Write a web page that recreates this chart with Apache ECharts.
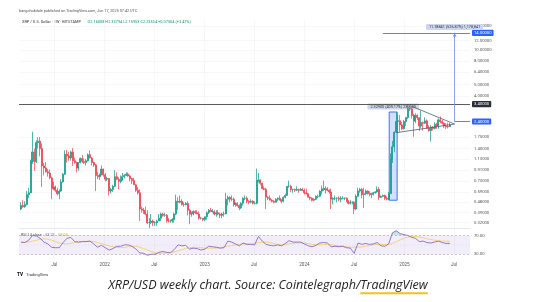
<!DOCTYPE html>
<html><head><meta charset="utf-8">
<script src="https://cdn.jsdelivr.net/npm/echarts@6/dist/echarts.min.js"></script>
<style>html,body{margin:0;padding:0;background:#fff}#c{width:543px;height:302px}</style>
</head><body><div id="c"></div>
<script>
// ---------- DATA ----------
const firstWeek = '2021-03-01'; // Monday of first weekly candle
// rows: [open, high, low, close]
const ohlc2021 = [
[0.42,0.48,0.41,0.45],[0.45,0.50,0.43,0.44],[0.44,0.49,0.43,0.46],[0.46,0.60,0.45,0.56],[0.56,0.64,0.52,0.58],
[0.58,1.12,0.58,1.07],[1.07,1.96,1.03,1.31],[1.31,1.40,0.90,1.08],[1.08,1.65,1.05,1.58],
[1.58,1.75,1.40,1.62],[1.62,1.76,1.20,1.40],[1.40,1.55,0.65,0.99],[0.99,1.05,0.82,0.95],[0.95,1.07,0.87,0.88],
[0.88,0.93,0.80,0.86],[0.86,0.92,0.76,0.78],[0.78,0.80,0.51,0.63],[0.63,0.72,0.61,0.65],
[0.65,0.67,0.59,0.61],[0.61,0.64,0.55,0.57],[0.57,0.62,0.51,0.60],[0.60,0.76,0.59,0.72],
[0.72,0.86,0.71,0.84],[0.84,1.35,0.83,1.25],[1.25,1.36,1.06,1.21],[1.21,1.31,1.10,1.16],[1.16,1.34,1.10,1.31],
[1.31,1.41,0.99,1.10],[1.10,1.17,1.03,1.06],[1.06,1.08,0.87,0.95],[0.95,1.06,0.90,1.06],
[1.06,1.17,1.04,1.15],[1.15,1.23,1.05,1.08],[1.08,1.15,1.03,1.06],[1.06,1.14,1.00,1.10],
[1.10,1.27,1.08,1.24],[1.24,1.35,1.15,1.16],[1.16,1.18,1.00,1.06],[1.06,1.08,0.97,1.01],[1.01,1.03,0.60,0.82],
[0.82,0.88,0.76,0.80],[0.80,0.85,0.75,0.83],[0.83,1.00,0.82,0.93],[0.93,0.94,0.80,0.83]
];
const ohlc2022 = [
[0.83,0.86,0.73,0.76],[0.76,0.80,0.73,0.77],[0.77,0.78,0.55,0.60],[0.60,0.64,0.57,0.62],[0.62,0.68,0.59,0.66],
[0.66,0.91,0.65,0.80],[0.80,0.87,0.75,0.76],[0.76,0.79,0.62,0.73],[0.73,0.82,0.70,0.75],
[0.75,0.86,0.74,0.80],[0.80,0.84,0.77,0.82],[0.82,0.87,0.81,0.84],[0.84,0.87,0.80,0.81],
[0.81,0.83,0.73,0.77],[0.77,0.78,0.69,0.74],[0.74,0.78,0.68,0.68],[0.68,0.69,0.59,0.61],
[0.61,0.65,0.56,0.58],[0.58,0.62,0.33,0.42],[0.42,0.44,0.39,0.41],[0.41,0.43,0.38,0.40],[0.40,0.44,0.37,0.38],
[0.38,0.41,0.31,0.32],[0.32,0.35,0.287,0.32],[0.32,0.38,0.31,0.33],[0.33,0.34,0.30,0.32],
[0.32,0.33,0.30,0.32],[0.32,0.34,0.30,0.33],[0.33,0.38,0.33,0.35],[0.35,0.39,0.33,0.38],
[0.38,0.39,0.36,0.37],[0.37,0.39,0.36,0.37],[0.37,0.38,0.32,0.34],[0.34,0.35,0.32,0.33],[0.33,0.34,0.32,0.33],
[0.33,0.35,0.32,0.34],[0.34,0.39,0.32,0.38],[0.38,0.56,0.37,0.49],[0.49,0.53,0.41,0.48],
[0.48,0.55,0.47,0.49],[0.49,0.51,0.45,0.46],[0.46,0.48,0.44,0.46],[0.46,0.48,0.45,0.47],[0.47,0.49,0.37,0.41],
[0.41,0.42,0.31,0.38],[0.38,0.40,0.36,0.38],[0.38,0.41,0.37,0.40],[0.40,0.41,0.38,0.39],
[0.39,0.41,0.38,0.38],[0.38,0.40,0.34,0.35],[0.35,0.36,0.34,0.35],[0.35,0.35,0.33,0.34]
];
const ohlc2023 = [
[0.34,0.36,0.33,0.36],[0.36,0.40,0.34,0.39],[0.39,0.42,0.38,0.41],[0.41,0.43,0.40,0.40],[0.40,0.42,0.39,0.40],
[0.40,0.41,0.37,0.38],[0.38,0.41,0.36,0.39],[0.39,0.41,0.37,0.38],[0.38,0.39,0.35,0.37],
[0.37,0.39,0.35,0.38],[0.38,0.40,0.36,0.38],[0.38,0.58,0.38,0.51],[0.51,0.55,0.45,0.53],
[0.53,0.54,0.48,0.51],[0.51,0.55,0.49,0.51],[0.51,0.53,0.44,0.46],[0.46,0.48,0.44,0.47],
[0.47,0.48,0.44,0.45],[0.45,0.46,0.41,0.43],[0.43,0.48,0.42,0.47],[0.47,0.53,0.45,0.52],[0.52,0.55,0.50,0.52],
[0.52,0.54,0.47,0.49],[0.49,0.50,0.46,0.48],[0.48,0.51,0.47,0.49],[0.49,0.50,0.46,0.47],
[0.47,0.49,0.46,0.47],[0.47,0.94,0.46,0.74],[0.74,0.86,0.71,0.75],[0.75,0.76,0.68,0.70],[0.70,0.71,0.62,0.63],
[0.63,0.66,0.61,0.62],[0.62,0.64,0.42,0.53],[0.53,0.54,0.50,0.52],[0.52,0.55,0.50,0.50],
[0.50,0.51,0.48,0.49],[0.49,0.50,0.47,0.48],[0.48,0.52,0.48,0.51],[0.51,0.53,0.49,0.52],
[0.52,0.55,0.50,0.50],[0.50,0.51,0.47,0.49],[0.49,0.54,0.48,0.53],[0.53,0.57,0.52,0.55],[0.55,0.66,0.55,0.66],
[0.66,0.74,0.64,0.66],[0.66,0.68,0.59,0.62],[0.62,0.63,0.58,0.62],[0.62,0.63,0.59,0.61],
[0.61,0.66,0.60,0.62],[0.62,0.63,0.58,0.61],[0.61,0.64,0.60,0.62],[0.62,0.64,0.60,0.61]
];
const ohlc2024 = [
[0.61,0.63,0.56,0.58],[0.58,0.63,0.56,0.57],[0.57,0.58,0.53,0.53],[0.53,0.54,0.50,0.52],[0.52,0.53,0.49,0.50],
[0.50,0.52,0.49,0.51],[0.51,0.55,0.50,0.54],[0.54,0.56,0.52,0.54],[0.54,0.61,0.53,0.60],
[0.60,0.67,0.56,0.63],[0.63,0.74,0.60,0.62],[0.62,0.66,0.57,0.63],[0.63,0.65,0.60,0.61],
[0.61,0.62,0.57,0.59],[0.59,0.63,0.42,0.51],[0.51,0.53,0.46,0.52],[0.52,0.55,0.50,0.52],[0.52,0.53,0.48,0.52],
[0.52,0.54,0.49,0.51],[0.51,0.54,0.48,0.52],[0.52,0.54,0.51,0.52],[0.52,0.53,0.50,0.52],
[0.52,0.53,0.48,0.49],[0.49,0.50,0.46,0.47],[0.47,0.50,0.46,0.48],[0.48,0.49,0.46,0.48],
[0.48,0.49,0.38,0.42],[0.42,0.56,0.41,0.54],[0.54,0.64,0.53,0.60],[0.60,0.64,0.58,0.62],[0.62,0.64,0.52,0.56],
[0.56,0.64,0.43,0.57],[0.57,0.62,0.55,0.60],[0.60,0.61,0.56,0.57],[0.57,0.60,0.54,0.57],
[0.57,0.58,0.52,0.56],[0.56,0.59,0.55,0.58],[0.58,0.60,0.57,0.59],[0.59,0.66,0.58,0.62],[0.62,0.65,0.50,0.53],
[0.53,0.55,0.52,0.54],[0.54,0.56,0.53,0.55],[0.55,0.56,0.50,0.52],[0.52,0.54,0.50,0.51],
[0.51,0.59,0.50,0.57],[0.57,1.27,0.57,1.13],[1.13,1.63,1.05,1.45],[1.45,1.97,1.30,1.94],
[1.94,2.90,1.92,2.40],[2.40,2.73,1.90,2.44],[2.44,2.72,1.95,2.24],[2.24,2.37,2.03,2.08],[2.08,2.48,2.05,2.40]
];
const ohlc2025 = [
[2.40,2.60,2.20,2.60],[2.60,3.40,2.52,3.10],[3.10,3.31,2.95,3.08],[3.08,3.20,2.55,2.70],
[2.70,2.79,1.77,2.42],[2.42,2.82,2.33,2.72],[2.72,2.76,2.47,2.59],[2.59,2.60,1.99,2.19],
[2.19,3.00,2.10,2.35],[2.35,2.40,2.00,2.32],[2.32,2.60,2.28,2.43],[2.43,2.50,2.08,2.10],[2.10,2.23,1.96,2.00],
[2.00,2.24,1.61,2.15],[2.15,2.18,2.01,2.09],[2.09,2.36,2.05,2.27],[2.27,2.34,2.08,2.21],
[2.21,2.55,2.08,2.48],[2.48,2.65,2.31,2.39],[2.39,2.48,2.26,2.32],[2.32,2.36,2.11,2.19],
[2.19,2.32,2.07,2.17],[2.17,2.34,2.09,2.16],[2.16008,2.33794,2.15953,2.23504]
];
// RSI(14) read every 2 weeks, and its moving average read every 4 weeks
const rsiBiweekly = [
56,55,60,70,69,64,56,52,45,44,
44,55,64,66,57,56,57,57,58,52,
45,49,44,39,42,47,47,50,50,47,
41,33,32,28,30,30,34,36,34,33,
40,50,48,49,41,43,42,39,41,47,
46,45,43,44,58,56,52,48,54,51,
51,50,68,58,51,49,48,50,48,53,
59,56,56,56,52,48,46,49,54,55,
54,46,47,46,47,44,43,32,54,51,
53,51,52,55,48,47,52,76,80,74,
72,70,66,64,57,58,55,54,56,58,
55,53,53.23
];
const rsiMA4w = [
55,56,60,63,60,54,52,55,57,58,
55,50,46,44,46,47,42,36,32,33,
35,40,44,45,43,43,44,47,50,52,
52,55,56,53,50,52,54,54,51,50,
51,49,47,45,45,47,50,51,51,57,
64,68,67,63,60,58,58.08
];
// price-scale tick labels (log scale) and x tick dates
const yTickPrices = [16,12,10,8,6.4,5,4,1.75,1.4,1.13,0.91,0.73,0.59,0.48,0.39,0.32];
const xTickDates = ['2021-07-01','2022-01-01','2022-07-01','2023-01-01','2023-07-01','2024-01-01','2024-07-01','2025-01-01','2025-07-01'];
const rsiTicks = [70,30];
// annotations (dates / prices)
const athLevel = 3.40, breakoutLevel = 2.40, targetLevel = 14.0;
const targetFrom = '2024-10-14', arrowDate = '2025-07-03';
const triUpper = [['2025-01-27',3.25],['2025-07-03',2.28]];
const triLower = [['2024-12-02',1.92],['2025-07-03',2.28]];
const pumpBox = [['2024-11-06',0.50],['2024-12-05',2.90]];
const pumpText = '2.32900 (409.17%) 232900';
const targetText = '11.78841 (526.87%) 1,178,841';

// ---------- BUILD ----------
const DAY = 864e5, L = Math.log;
const T = s => Date.parse(s + 'T00:00:00Z');
const t0 = T(firstWeek);
const weekly = [].concat(ohlc2021, ohlc2022, ohlc2023, ohlc2024, ohlc2025);
const candleData = weekly.map((r, i) => [t0 + 7 * i * DAY, L(r[0]), L(r[3]), L(r[2]), L(r[1])]);
const rsiData = rsiBiweekly.map((v, k) => [t0 + 14 * k * DAY, v]);
const maData = rsiMA4w.map((v, k) => [t0 + 28 * k * DAY, v]);
const last = weekly[weekly.length - 1], prevClose = weekly[weekly.length - 2][3];
const lastRsi = rsiBiweekly[rsiBiweekly.length - 1], lastMa = rsiMA4w[rsiMA4w.length - 1];

const xMin = t0 - 7.3 * DAY, xMax = xMin + 1648.6 * DAY;
const yMin = -1.2563, yMax = 2.8971;
const FONT = 'Roboto';
const GL = 19, GW = 451;
const gridC = '#f1f2f5';

const box = (bg, fg, txt) => ({show: true, position: 'end', distance: 2, formatter: txt, backgroundColor: bg, color: fg,
  fontSize: 4.2, fontFamily: FONT, padding: [1.3, 2, 0.9, 2], borderRadius: 1});
const P = a => [T(a[0]), L(a[1])];

const xBase = (idx, showLabels) => ({
  type: 'value', gridIndex: idx, min: xMin, max: xMax,
  axisLine: {show: idx === 0, onZero: false, lineStyle: {color: '#e0e3eb', width: 0.8}},
  axisTick: {show: false, customValues: xTickDates.map(T)},
  splitLine: {show: idx <= 1, lineStyle: {color: gridC, width: 0.6}},
  axisLabel: {show: showLabels, customValues: xTickDates.map(T), fontSize: 4.6, color: '#555', fontFamily: FONT, margin: 4,
    formatter: v => { const d = new Date(v); return d.getUTCMonth() === 0 ? String(d.getUTCFullYear()) : 'Jul'; }}
});

const chart = echarts.init(document.getElementById('c'), null, {renderer: 'canvas'});

// caption measurement for underline
const cv = document.createElement('canvas').getContext('2d');
const capFont = 'italic 12.5px "Open Sans"';
cv.font = capFont;
const capText = 'XRP/USD weekly chart. Source: Cointelegraph/TradingView';
const capW = cv.measureText(capText).width;
const preW = cv.measureText('XRP/USD weekly chart. Source: Cointelegraph/').width;
const capCx = 268;

const chg = last[3] - prevClose;

chart.setOption({
  animation: false,
  backgroundColor: '#fff',
  grid: [
    {left: GL, top: 20, width: GW, height: 208.5},
    {left: GL, top: 228, width: GW, height: 30},
    {left: GL, top: 228, width: GW, height: 7.5},
    {left: GL, top: 254.25, width: GW, height: 3.75}
  ],
  xAxis: [xBase(0, false), xBase(1, true), xBase(2, false), xBase(3, false)],
  yAxis: [
    {type: 'value', gridIndex: 0, position: 'right', min: yMin, max: yMax,
      axisLine: {show: false}, axisTick: {show: false, customValues: yTickPrices.map(L)},
      splitLine: {show: true, lineStyle: {color: gridC, width: 0.6}},
      axisLabel: {customValues: yTickPrices.map(L), formatter: v => Math.exp(v).toFixed(5), fontSize: 4.2, color: '#555', fontFamily: FONT, margin: 4}},
    {type: 'value', gridIndex: 1, position: 'right', min: 22, max: 86,
      axisLine: {show: false}, axisTick: {show: false, customValues: rsiTicks}, splitLine: {show: false},
      axisLabel: {customValues: rsiTicks, formatter: v => v.toFixed(2), fontSize: 4.2, color: '#555', fontFamily: FONT, margin: 4}},
    {type: 'value', gridIndex: 2, min: 70, max: 86, show: false},
    {type: 'value', gridIndex: 3, min: 22, max: 30, show: false}
  ],
  series: [
    {type: 'candlestick', xAxisIndex: 0, yAxisIndex: 0, data: candleData, encode: {x: 0, y: [1, 2, 3, 4]},
      barWidth: 1.5,
      itemStyle: {color: '#089981', color0: '#f23645', borderColor: '#089981', borderColor0: '#f23645', borderWidth: 0.7},
      markArea: {silent: true, data: [[
        {coord: P(pumpBox[0]), itemStyle: {color: 'rgba(41,98,255,0.2)', borderColor: '#2962ff', borderWidth: 0.9},
         label: {show: true, position: 'top', distance: 2, formatter: pumpText, backgroundColor: '#cdd8ee', color: '#333',
           fontSize: 3.8, fontFamily: FONT, padding: [1.2, 3, 0.8, 3], borderRadius: 1}},
        {coord: P(pumpBox[1])}
      ]]},
      markLine: {silent: true, symbol: ['none', 'none'], animation: false, data: [
        {yAxis: L(athLevel), lineStyle: {color: '#4a4a4a', width: 0.9, type: 'solid'}, label: box('#2a2e39', '#fff', athLevel.toFixed(5))},
        [{coord: [T(targetFrom), L(targetLevel)], lineStyle: {color: '#2962ff', width: 0.8, type: 'solid'}, label: box('#2962ff', '#fff', targetLevel.toFixed(5))},
         {coord: [xMax, L(targetLevel)]}],
        [{coord: [T(targetFrom), L(targetLevel)], lineStyle: {opacity: 0}, label: {show: true, position: 'start', distance: 2, formatter: 'Target', color: '#2962ff', fontSize: 5.5, fontWeight: 'bold', fontFamily: FONT}},
         {coord: [T(targetFrom) + DAY, L(targetLevel)]}],
        [{coord: [T(arrowDate), L(breakoutLevel)], lineStyle: {color: '#2962ff', width: 0.8, type: 'solid'}, label: box('#2962ff', '#fff', breakoutLevel.toFixed(5))},
         {coord: [xMax, L(breakoutLevel)]}],
        [{coord: [T(arrowDate), L(breakoutLevel)], lineStyle: {color: '#6d8ee8', width: 0.8, type: 'solid'},
          label: {show: true, position: 'end', distance: 3, formatter: targetText, backgroundColor: '#cdd8ee', color: '#333', fontSize: 3.8, fontFamily: FONT, padding: [1.2, 3, 0.8, 3], borderRadius: 1}},
         {coord: [T(arrowDate), L(targetLevel)], symbol: 'arrow', symbolSize: [3, 4]}],
        [{coord: P(triUpper[0]), lineStyle: {color: '#4f5b75', width: 0.8, type: 'solid'}, label: {show: false}}, {coord: P(triUpper[1])}],
        [{coord: P(triLower[0]), lineStyle: {color: '#4f5b75', width: 0.8, type: 'solid'}, label: {show: false}}, {coord: P(triLower[1])}],
        {yAxis: L(last[3]), lineStyle: {opacity: 0}, label: Object.assign(box('#089981', '#fff', last[3].toFixed(5) + '\n6d 16h'), {offset: [0, 3.5], lineHeight: 4.6})}
      ]}
    },
    {type: 'line', xAxisIndex: 1, yAxisIndex: 1, data: rsiData, symbol: 'none', lineStyle: {color: '#7e57c2', width: 0.8}, z: 3,
      markArea: {silent: true, itemStyle: {color: 'rgba(126,87,194,0.1)'}, data: [[{yAxis: 30}, {yAxis: 70}]]},
      markLine: {silent: true, symbol: ['none', 'none'], data: [
        {yAxis: 70, lineStyle: {color: '#9598a1', width: 0.5, type: [2, 2]}, label: {show: false}},
        {yAxis: 30, lineStyle: {color: '#9598a1', width: 0.5, type: [2, 2]}, label: {show: false}},
        {yAxis: 50, lineStyle: {color: '#c3c5cc', width: 0.4, type: [1, 2]}, label: {show: false}},
        {yAxis: lastRsi, lineStyle: {opacity: 0}, label: Object.assign(box('#7e57c2', '#fff', lastRsi.toFixed(2)), {offset: [0, 1.5]})}
      ]}},
    {type: 'line', xAxisIndex: 1, yAxisIndex: 1, data: maData, symbol: 'none', smooth: 0.3, lineStyle: {color: '#f5c542', width: 0.7}, z: 2,
      markLine: {silent: true, symbol: ['none', 'none'], data: [
        {yAxis: lastMa, lineStyle: {opacity: 0}, label: Object.assign(box('#f7d047', '#222', lastMa.toFixed(2)), {offset: [0, 0]})}
      ]}},
    {type: 'line', xAxisIndex: 2, yAxisIndex: 2, data: rsiData, symbol: 'none', lineStyle: {width: 0}, clip: true,
      areaStyle: {color: 'rgba(8,153,129,0.35)', origin: 'start'}},
    {type: 'line', xAxisIndex: 3, yAxisIndex: 3, data: rsiData, symbol: 'none', lineStyle: {width: 0}, clip: true,
      areaStyle: {color: 'rgba(242,54,69,0.35)', origin: 'end'}}
  ],
  graphic: [
    {type: 'text', left: 19, top: 9, style: {text: 'bangchokdale published on TradingView.com, Jun 17, 2025 07:42 UTC', fontSize: 3.8, fontFamily: FONT, fill: '#555'}},
    {type: 'text', left: 22, top: 16, style: {
      text: '{a|XRP / U.S. Dollar · 1W · BITSTAMP}  {g|O' + last[0].toFixed(5) + ' H' + last[1].toFixed(5) + ' L' + last[2].toFixed(5) + ' C' + last[3].toFixed(5) + ' ' + (chg >= 0 ? '+' : '') + chg.toFixed(5) + ' (' + (chg >= 0 ? '+' : '') + (chg / prevClose * 100).toFixed(2) + '%)}',
      rich: {a: {fontSize: 3.9, fontFamily: FONT, fill: '#333'}, g: {fontSize: 3.9, fontFamily: FONT, fill: '#089981'}}}},
    {type: 'text', left: 21, top: 229.5, style: {
      text: '{a|RSI 14 close} {p|' + lastRsi.toFixed(2) + '} {y|' + lastMa.toFixed(2) + '}',
      rich: {a: {fontSize: 3.8, fontFamily: FONT, fill: '#555'}, p: {fontSize: 3.8, fontFamily: FONT, fill: '#7e57c2'}, y: {fontSize: 3.8, fontFamily: FONT, fill: '#e0b400'}}}},
    {type: 'text', left: 17, top: 269, style: {
      text: '{l|TV} {t|TradingView}',
      rich: {l: {fontSize: 4.6, fontWeight: 900, fontFamily: FONT, fill: '#131722'}, t: {fontSize: 4, fontFamily: FONT, fill: '#333'}}}},
    {type: 'text', x: capCx, y: 285, style: {text: capText, font: capFont, fill: '#222', align: 'center', verticalAlign: 'middle'}},
    {type: 'rect', shape: {x: capCx - capW / 2 + preW, y: 292.3, width: capW - preW, height: 2}, style: {fill: '#f2c21b'}}
  ]
});
</script>
</body></html>
